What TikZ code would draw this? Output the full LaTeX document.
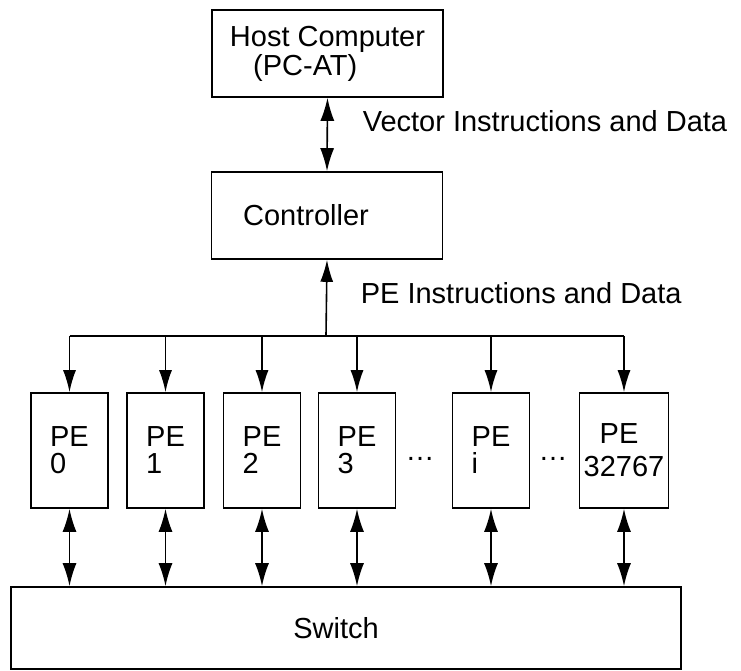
\documentclass[tikz,border=0pt]{standalone}
\usepackage{fontspec}
\setmainfont{Liberation Sans}
\usetikzlibrary{arrows.meta}

\begin{document}
\begin{tikzpicture}[x=0.5pt,y=-0.5pt,thick,
font=\fontsize{14.5}{13.5}\selectfont,
bigblock/.style={draw,rectangle,inner sep=4pt,minimum width=115.5pt,minimum height=43.5pt,align=left,thick},
peblock/.style={draw,rectangle,inner sep=2pt,minimum width=38.5pt,minimum height=57.5pt,align=left,thick},
swblock/.style={draw,rectangle,inner sep=4pt,minimum width=335pt,minimum height=41pt,thick},
lbl/.style={inner sep=0pt,anchor=west},
onearrow/.style={-{Latex[length=11pt,width=6.5pt]}},
twoarrow/.style={{Latex[length=11.5pt,width=7pt]}-{Latex[length=11.5pt,width=7pt]}}]

\useasboundingbox (0,0) rectangle (741,671);

\draw (327.5,53.5) node[bigblock] (host) {Host Computer\\\hspace*{0.8em}(PC-AT)};
\draw (327,215.5) node[bigblock] (ctrl) {\hspace*{-21pt}Controller};
\draw (69.5,450.5) node[peblock] (pe0) {PE\\0};
\draw (165.5,450.5) node[peblock] (pe1) {PE\\1};
\draw (262,450.5) node[peblock] (pe2) {PE\\2};
\draw (357,450.5) node[peblock] (pe3) {PE\\3};
\draw (491,450.5) node[peblock] (pei) {PE\\i};
\draw (624,450.5) node[peblock] (pen) {\hspace*{8pt}PE\\[3pt]32767};
\draw (420,459) node[inner sep=0pt] (dotsa) {\ldots};
\draw (553,459) node[inner sep=0pt] (dotsb) {\ldots};
\draw (346,628) node[swblock] (sw) {\hspace*{-10pt}Switch};

\draw (362,121) node[lbl] (vecl) {Vector Instructions and Data};
\draw (360,293) node[lbl] (pel) {PE Instructions and Data};

\coordinate (bus) at (326,336);

\draw[twoarrow] (host.south) -- (ctrl.north);
\draw[onearrow] (bus) -- (ctrl.south);
\draw (pe0.north |- bus) -- (pen.north |- bus);
\draw[onearrow] (pe0.north |- bus) -- (pe0.north);
\draw[onearrow] (pe1.north |- bus) -- (pe1.north);
\draw[onearrow] (pe2.north |- bus) -- (pe2.north);
\draw[onearrow] (pe3.north |- bus) -- (pe3.north);
\draw[onearrow] (pei.north |- bus) -- (pei.north);
\draw[onearrow] (pen.north |- bus) -- (pen.north);

\draw[twoarrow] (pe0.south) -- (pe0.south |- sw.north);
\draw[twoarrow] (pe1.south) -- (pe1.south |- sw.north);
\draw[twoarrow] (pe2.south) -- (pe2.south |- sw.north);
\draw[twoarrow] (pe3.south) -- (pe3.south |- sw.north);
\draw[twoarrow] (pei.south) -- (pei.south |- sw.north);
\draw[twoarrow] (pen.south) -- (pen.south |- sw.north);
\end{tikzpicture}
\end{document}
